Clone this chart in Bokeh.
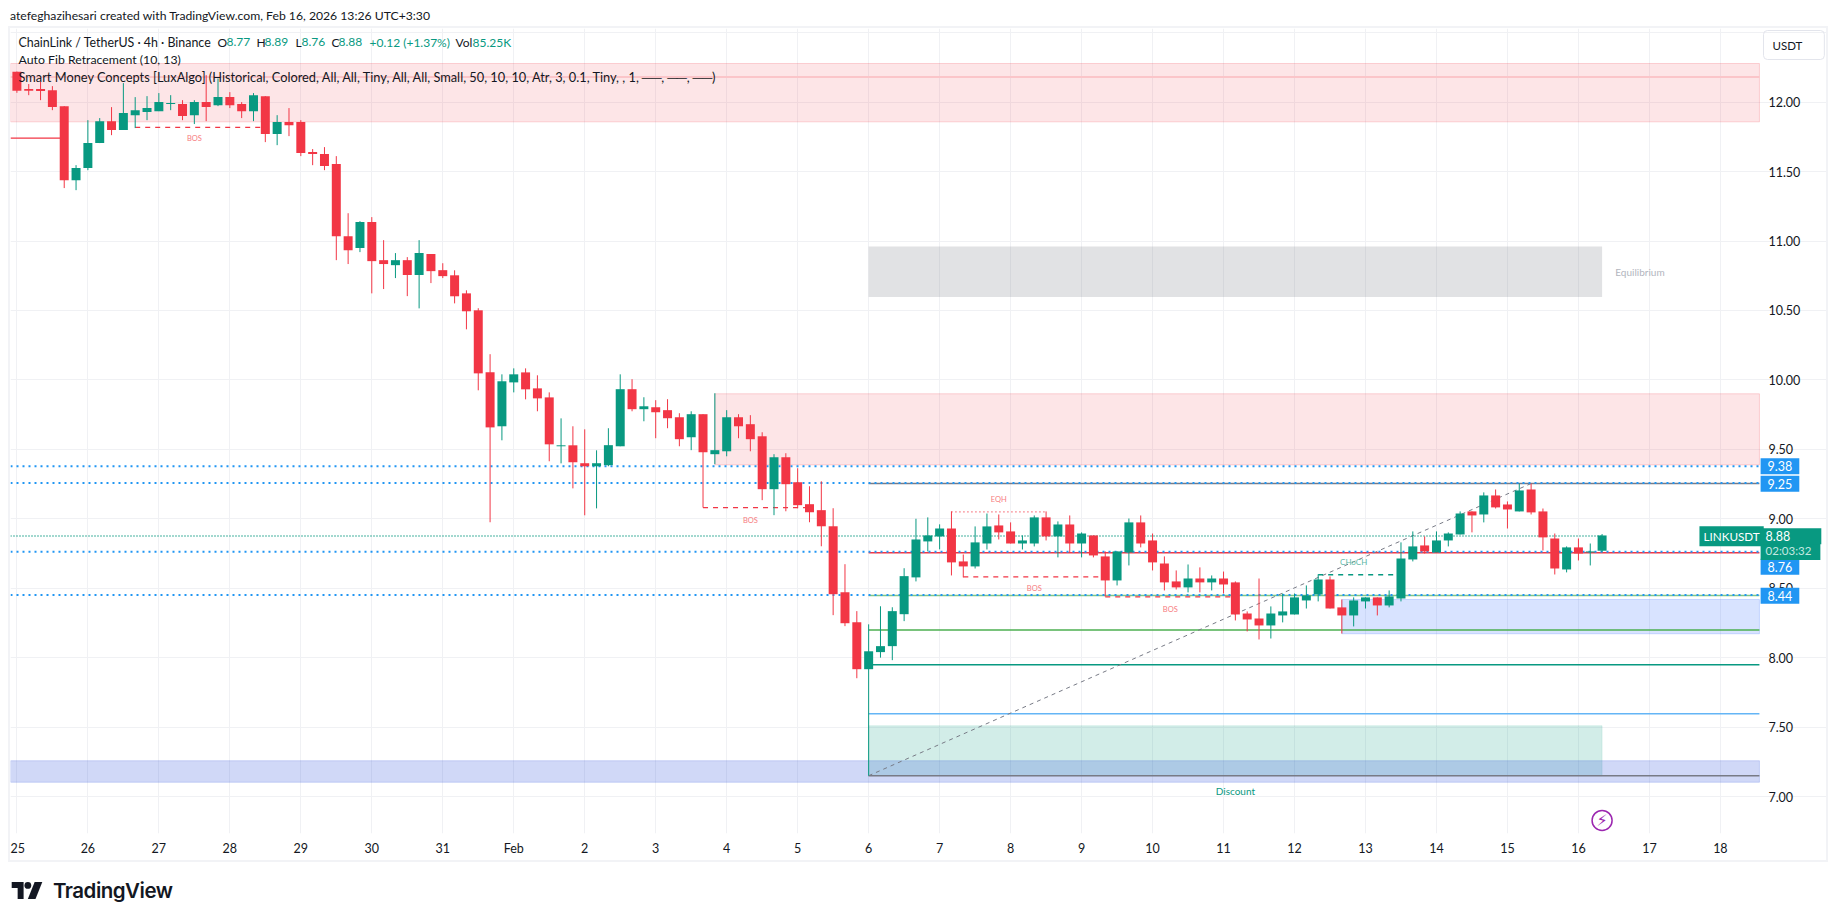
# LINKUSDT 4h chart
from bokeh.core.properties import value
from bokeh.embed import file_html
from bokeh.layouts import column
from bokeh.models import ColumnDataSource, Div, FixedTicker, Label, LinearAxis, Range1d
from bokeh.plotting import figure
from bokeh.resources import INLINE

# one candle every 4h, index 0 sits on the "25" tick
opens = [12.218, 12.094, 12.094, 12.086, 11.971, 11.438, 11.525, 11.705, 11.863, 11.8,
         11.906, 11.928, 11.935, 11.986, 11.986, 11.906, 12.0, 11.978, 12.036, 11.986,
         11.935, 12.043, 11.77, 11.856, 11.856, 11.64, 11.626, 11.554, 11.035, 10.949,
         11.136, 10.862, 10.826, 10.862, 10.755, 10.906, 10.79, 10.753, 10.623, 10.501,
         10.055, 9.666, 9.982, 10.054, 9.939, 9.874, 9.522, 9.529, 9.4, 9.378,
         9.386, 9.522, 9.933, 9.789, 9.803, 9.782, 9.731, 9.587, 9.753, 9.465,
         9.486, 9.731, 9.681, 9.594, 9.213, 9.443, 9.263, 9.105, 9.062, 8.946,
         8.471, 8.255, 7.917, 8.04, 8.083, 8.313, 8.578, 8.837, 8.873, 8.93,
         8.693, 8.657, 8.822, 8.952, 8.909, 8.822, 8.822, 9.01, 8.873, 8.959,
         8.822, 8.88, 8.729, 8.556, 8.758, 8.974, 8.844, 8.678, 8.549, 8.506,
         8.57, 8.542, 8.57, 8.542, 8.318, 8.282, 8.232, 8.304, 8.311, 8.412,
         8.455, 8.563, 8.362, 8.304, 8.405, 8.434, 8.376, 8.426, 8.707, 8.808,
         8.758, 8.844, 8.887, 9.053, 9.031, 9.168, 9.103, 9.053, 9.211, 9.053,
         8.858, 8.635, 8.794, 8.758, 8.77]
highs = [12.22, 12.13, 12.146, 12.115, 11.971, 11.546, 11.87, 11.885, 11.964, 12.137,
         12.036, 12.043, 12.065, 12.05, 12.014, 12.014, 12.194, 12.17, 12.072, 12.0,
         12.065, 12.043, 11.906, 11.957, 11.87, 11.662, 11.676, 11.611, 11.2, 11.143,
         11.172, 11.006, 10.913, 10.884, 11.006, 10.906, 10.84, 10.789, 10.645, 10.516,
         10.185, 10.04, 10.083, 10.083, 10.033, 9.91, 9.723, 9.666, 9.644, 9.493,
         9.652, 10.04, 10.005, 9.875, 9.854, 9.861, 9.76, 9.774, 9.753, 9.904,
         9.782, 9.753, 9.746, 9.623, 9.465, 9.472, 9.364, 9.234, 9.27, 9.076,
         8.673, 8.335, 8.24, 8.37, 8.363, 8.644, 9.0, 9.01, 8.96, 9.053,
         8.743, 8.945, 9.038, 9.031, 8.974, 8.88, 9.024, 9.053, 8.981, 9.024,
         8.902, 8.88, 8.765, 8.765, 9.002, 9.024, 8.894, 8.729, 8.628, 8.671,
         8.65, 8.592, 8.62, 8.549, 8.333, 8.57, 8.369, 8.462, 8.462, 8.52,
         8.6, 8.585, 8.419, 8.434, 8.434, 8.434, 8.484, 8.83, 8.909, 8.873,
         8.909, 8.902, 9.053, 9.053, 9.19, 9.211, 9.125, 9.254, 9.254, 9.074,
         8.894, 8.801, 8.858, 8.822, 8.89]
lows = [12.067, 12.05, 12.014, 11.942, 11.381, 11.366, 11.51, 11.705, 11.762, 11.8,
        11.813, 11.87, 11.935, 11.942, 11.87, 11.842, 11.863, 11.971, 11.957, 11.885,
        11.863, 11.712, 11.69, 11.755, 11.611, 11.546, 11.51, 10.862, 10.834, 10.92,
        10.623, 10.654, 10.733, 10.603, 10.515, 10.697, 10.733, 10.551, 10.364, 9.925,
        8.975, 9.565, 9.91, 9.86, 9.774, 9.414, 9.399, 9.219, 9.025, 9.075,
        9.378, 9.522, 9.774, 9.702, 9.58, 9.652, 9.522, 9.494, 9.081, 9.393,
        9.45, 9.58, 9.486, 9.134, 9.026, 9.054, 9.076, 8.975, 8.802, 8.306,
        8.227, 7.852, 7.15, 8.0, 7.982, 8.263, 8.549, 8.765, 8.78, 8.592,
        8.578, 8.642, 8.779, 8.851, 8.822, 8.779, 8.801, 8.844, 8.722, 8.758,
        8.722, 8.722, 8.441, 8.52, 8.664, 8.794, 8.628, 8.484, 8.491, 8.47,
        8.47, 8.484, 8.462, 8.268, 8.189, 8.131, 8.138, 8.254, 8.311, 8.354,
        8.405, 8.354, 8.174, 8.225, 8.354, 8.304, 8.362, 8.405, 8.693, 8.75,
        8.758, 8.801, 8.887, 8.902, 8.974, 9.074, 8.93, 9.053, 9.031, 8.772,
        8.599, 8.614, 8.7, 8.664, 8.76]
closes = [12.082, 12.082, 12.08, 11.964, 11.438, 11.525, 11.705, 11.863, 11.8, 11.921,
          11.942, 11.957, 12.0, 11.993, 11.9, 12.0, 11.964, 12.036, 11.978, 11.935,
          12.05, 11.77, 11.856, 11.834, 11.633, 11.626, 11.54, 11.035, 10.934, 11.136,
          10.855, 10.834, 10.862, 10.755, 10.913, 10.783, 10.747, 10.602, 10.494, 10.047,
          9.658, 9.99, 10.04, 9.932, 9.867, 9.536, 9.529, 9.407, 9.378, 9.4,
          9.53, 9.933, 9.789, 9.81, 9.767, 9.724, 9.573, 9.753, 9.479, 9.494,
          9.731, 9.666, 9.573, 9.213, 9.443, 9.249, 9.098, 9.047, 8.946, 8.457,
          8.248, 7.917, 8.046, 8.083, 8.335, 8.587, 8.851, 8.88, 8.93, 8.686,
          8.657, 8.83, 8.945, 8.902, 8.822, 8.844, 9.01, 8.873, 8.959, 8.822,
          8.894, 8.736, 8.556, 8.765, 8.974, 8.822, 8.686, 8.542, 8.506, 8.57,
          8.542, 8.57, 8.527, 8.311, 8.275, 8.232, 8.318, 8.333, 8.434, 8.448,
          8.563, 8.354, 8.304, 8.412, 8.434, 8.376, 8.441, 8.714, 8.801, 8.765,
          8.844, 8.894, 9.038, 9.024, 9.168, 9.082, 9.067, 9.204, 9.046, 8.866,
          8.642, 8.794, 8.75, 8.765, 8.88]

day_labels = ["25", "26", "27", "28", "29", "30", "31", "Feb", "2", "3", "4", "5", "6", "7", "8",
              "9", "10", "11", "12", "13", "14", "15", "16", "17", "18"]
price_ticks = [7.0, 7.5, 8.0, 8.5, 9.0, 9.5, 10.0, 10.5, 11.0, 11.5, 12.0]
grid_ticks = price_ticks + [12.5]

# X_RIGHT is where the chart pane stops, the price scale sits between it and X_END
X_LEFT, X_RIGHT, X_END = -0.541, 147.3, 152.97

# boxes: left, right, bottom, top
zone_left = [X_LEFT, 59, 72, 72, X_LEFT, 112]
zone_right = [X_RIGHT, X_RIGHT, 134, 134, X_RIGHT, X_RIGHT]
zone_bottom = [11.858, 9.388, 10.596, 7.15, 7.103, 8.172]
zone_top = [12.278, 9.90, 10.96, 7.51, 7.258, 8.419]
zone_color = ["#f23645", "#f23645", "#787b86", "#089981", "#2b4fdc", "#2962ff"]
zone_alpha = [0.13, 0.13, 0.22, 0.18, 0.22, 0.18]
zone_line_alpha = [0.2, 0.2, 0, 0.1, 0.2, 0.2]

# fib levels and zone mid line
level_price = [9.254, 8.755, 8.447, 8.2, 7.949, 7.596, 7.15, 12.18]
level_start = [72, 72, 72, 72, 72, 72, 72, X_LEFT]
level_color = ["#787b86", "#f23645", "#81c784", "#4caf50", "#089981", "#64b5f6", "#787b86", "#fbc5c9"]
level_width = [1.5, 1.5, 1.5, 1.5, 1.5, 1.5, 1.5, 2]

hline_price = [9.379, 9.258, 8.762, 8.451]
hline_label_price = [9.379, 9.253, 8.654, 8.445]

struct_price = [11.818, 9.081, 8.582, 8.438, 8.597]
struct_start = [10, 58, 80, 92, 110]
struct_end = [21, 67, 92, 103, 117]
struct_color = ["#f23645", "#f23645", "#f23645", "#f23645", "#089981"]

tag_text = ["BOS", "BOS", "BOS", "BOS", "EQH", "CHoCH", "Equilibrium", "Discount"]
tag_x = [15, 62, 86, 97.5, 83, 113, 137.2, 103]
tag_y = [11.74, 8.99, 8.496, 8.35, 9.137, 8.688, 10.775, 7.04]
tag_color = ["#f77c80", "#f77c80", "#f77c80", "#f77c80", "#f77c80", "#5cb8a6", "#b2b5be", "#089981"]
tag_size = ["7.5px", "7.5px", "7.5px", "7.5px", "7.5px", "8px", "10px", "10px"]

FONT = "Lato"
UP, DOWN = "#089981", "#f23645"
BLUE = "#2196f3"

idx = list(range(len(opens)))
colors = [UP if c >= o else DOWN for o, c in zip(opens, closes)]
source = ColumnDataSource({
    "x": idx,
    "top": [max(o, c) for o, c in zip(opens, closes)],
    "bottom": [min(o, c) for o, c in zip(opens, closes)],
    "high": highs,
    "low": lows,
    "color": colors,
})

p = figure(width=1816, height=832, output_backend="svg", toolbar_location=None,
           x_range=Range1d(X_LEFT, X_END), y_range=Range1d(6.734, 12.53),
           y_axis_location=None, min_border_left=0, min_border_top=0,
           min_border_right=0, min_border_bottom=27, outline_line_color=None,
           margin=(0, 0, 0, 2), styles={"box-shadow": "0 0 0 2px #f2f3f6"})

day_ticks = [i * 6 for i in range(len(day_labels))]
p.xaxis.ticker = FixedTicker(ticks=day_ticks)
p.xaxis.major_label_overrides = dict(zip(day_ticks, day_labels))
yaxis = LinearAxis(ticker=FixedTicker(ticks=price_ticks), fixed_location=X_RIGHT)
yaxis.major_label_overrides = {v: "%.2f" % v for v in price_ticks}
p.add_layout(yaxis, "right")
for ax in (p.xaxis[0], yaxis):
    ax.axis_line_color = None
    ax.major_tick_line_color = None
    ax.minor_tick_line_color = None
    ax.major_label_text_font = FONT
    ax.major_label_text_font_size = "12.5px"
    ax.major_label_text_color = "#131722"
    ax.major_tick_in = 0
    ax.major_tick_out = 0
p.xaxis[0].major_label_standoff = 7
yaxis.major_label_standoff = 9

p.xgrid.ticker = FixedTicker(ticks=day_ticks)
p.ygrid.ticker = FixedTicker(ticks=grid_ticks)
p.ygrid.bounds = (X_LEFT, X_RIGHT)
p.xgrid.grid_line_color = "#f0f1f4"
p.ygrid.grid_line_color = "#f0f1f4"

p.quad(left=zone_left, right=zone_right, bottom=zone_bottom, top=zone_top,
       fill_color=zone_color, fill_alpha=zone_alpha, line_color=zone_color, line_alpha=zone_line_alpha)
for price, start, color, width in zip(level_price, level_start, level_color, level_width):
    p.line([start, X_RIGHT], [price, price], line_color=color, line_width=width)

# left red structure line and the fib diagonal
p.line([X_LEFT, 4], [11.74, 11.74], line_color=DOWN, line_width=1.2)
p.line([72, 128], [7.15, 9.254], line_color="#787b86", line_width=1, line_dash=[4, 4])

for price in hline_price:
    p.line([X_LEFT, X_RIGHT], [price, price], line_color=BLUE, line_width=2, line_dash=[2, 4])
p.line([X_LEFT, 134], [8.876, 8.876], line_color=UP, line_width=1.3, line_dash=[1, 2])

for price, start, end, color in zip(struct_price, struct_start, struct_end, struct_color):
    p.line([start, end], [price, price], line_color=color, line_width=1.3, line_dash=[5, 5])
p.line([79, 87], [9.05, 9.05], line_color=DOWN, line_width=1.3, line_dash=[1, 3])

p.segment("x", "high", "x", "low", line_color="color", line_width=1, source=source)
p.vbar("x", width=0.76, top="top", bottom="bottom", fill_color="color", line_color=None, source=source)

for text, x, y, color, size in zip(tag_text, tag_x, tag_y, tag_color, tag_size):
    p.text([x], [y], text=[text], text_color=color, text_font=value(FONT), text_font_size=size,
           text_align="center", text_baseline="middle")

# lightning mark on the last bar
p.scatter([134], [6.828], size=20, marker="circle", fill_color="white", line_color="#9c27b0", line_width=1.5)
p.text([134], [6.828], text=["⚡"], text_color="#9c27b0", text_font=value("DejaVu Sans"), text_font_size="16px",
       text_align="center", text_baseline="middle")


def label(text, px, py, color="#131722", size="13px", **kw):
    # px, py are page pixels, labels count from the frame's lower left corner
    kw.setdefault("text_align", "left")
    p.add_layout(Label(x=px - 10, y=833 - py, x_units="screen", y_units="screen", text=text,
                       text_color=color, text_font=FONT, text_font_size=size,
                       text_baseline="middle", level="overlay", **kw))


label("ChainLink / TetherUS · 4h · Binance", 18, 41.5, size="12.4px")
for text, px, color in [("O", 217, "#131722"), ("8.77", 226, UP), ("H", 256, "#131722"), ("8.89", 264, UP),
                        ("L", 295, "#131722"), ("8.76", 301, UP), ("C", 331, "#131722"), ("8.88", 338, UP),
                        ("+0.12 (+1.37%)", 369, UP), ("Vol", 455, "#131722"), ("85.25K", 472, UP)]:
    label(text, px, 41.5, color, size="12px")
label("Auto Fib Retracement (10, 13)", 18, 59, size="12.3px")
label("Smart Money Concepts [LuxAlgo] (Historical, Colored, All, All, Tiny, All, All, Small, 50, 10, 10, "
      "Atr, 3, 0.1, Tiny, , 1, ──, ──, ──)", 18, 76, size="12.8px")
label("USDT", 1763, 44.5, size="11.5px", border_line_color="#e3e5ec",
      border_radius=4, padding=(9, 22, 8, 8))


# padding is left, right, top, bottom
def price_box(text, y, fill, color="white", padding=(7, 7, 3, 3), px=147.4, size="12.5px"):
    p.add_layout(Label(x=px, y=y, text=text, text_color=color, text_font=FONT, text_font_size=size,
                       text_baseline="middle", background_fill_color=fill,
                       padding=padding, level="overlay"))


for text, y in zip(["9.38", "9.25", "8.76", "8.44"], hline_label_price):
    price_box(text, y, BLUE)
price_box("LINKUSDT", 8.875, UP, padding=(4, 4, 3, 3), px=142.23, size="11.7px")
price_box("02:03:32", 8.772, UP, color="#c4e8e0", padding=(5, 9, 3, 3), size="11.5px")
price_box("8.88", 8.875, UP, padding=(5, 31, 3, 3))

header = Div(text="atefeghazihesari created with TradingView.com, Feb 16, 2026 13:26 UTC+3:30",
             width=1816, height=20, margin=(0, 0, 0, 2),
             styles={"font-family": FONT, "font-size": "12.2px", "color": "#131722", "line-height": "15px"})

logo = ('<div style="display:flex;align-items:center;gap:10px;height:45px">'
        '<svg width="32" height="17" viewBox="0 0 36 20"><path fill="#131722" '
        'd="M0 0h14v20H7V7H0z"/><circle cx="19" cy="4" r="4" fill="#131722"/>'
        '<path fill="#131722" d="M27 0h9l-8 20h-9z"/></svg>'
        '<span style="font-family:Inter;font-weight:600;font-size:20.5px;color:#131722;letter-spacing:-0.5px">'
        'TradingView</span></div>')
footer = Div(text=logo, width=400, height=45, margin=(8, 0, 0, 3))

page = column(header, p, footer, spacing=0, margin=(8, 0, 0, 8))
open("out.html", "w").write(file_html(page, INLINE))
